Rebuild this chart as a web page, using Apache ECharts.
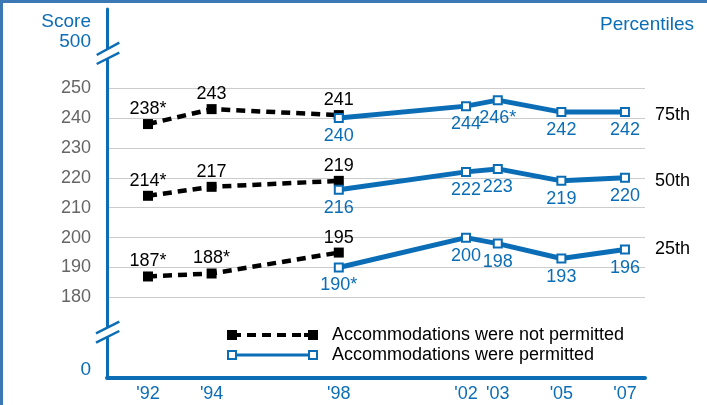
<!DOCTYPE html>
<html>
<head>
<meta charset="utf-8">
<script src="https://cdn.jsdelivr.net/npm/echarts@6/dist/echarts.min.js"></script>
<style>html,body{margin:0;padding:0;background:#fff;}#c{width:707px;height:405px;}</style>
</head>
<body>
<div id="c"></div>
<script>
// ---- data ----
const xTickYears = [1992, 1994, 1998, 2002, 2003, 2005, 2007];
const yTickValues = [180, 190, 200, 210, 220, 230, 240, 250];

const notPermittedYears = [1992, 1994, 1998];
const notPermitted75 = [238, 243, 241];
const notPermitted50 = [214, 217, 219];
const notPermitted25 = [187, 188, 195];
const notPermittedSig75 = [true, false, false];
const notPermittedSig50 = [true, false, false];
const notPermittedSig25 = [true, true, false];

const permittedYears = [1998, 2002, 2003, 2005, 2007];
const permitted75 = [240, 244, 246, 242, 242];
const permitted50 = [216, 222, 223, 219, 220];
const permitted25 = [190, 200, 198, 193, 196];
const permittedSig75 = [false, false, true, false, false];
const permittedSig50 = [false, false, false, false, false];
const permittedSig25 = [true, false, false, false, false];

const percentileNames = ['75th', '50th', '25th'];
const NAME_NOT = 'Accommodations were not permitted';
const NAME_YES = 'Accommodations were permitted';

// ---- styles ----
const BLUE = '#0b6db5';
const FONT = 'Liberation Sans, Arial, sans-serif';

function pairs(xs, ys, sig) {
  return xs.map((x, i) => ({ value: [x, ys[i]], sig: sig[i] }));
}
function labelFmt(p) { return p.value[1] + (p.data.sig ? '*' : ''); }

function notSeries(ys, sig) {
  return {
    name: NAME_NOT, type: 'line', z: 3,
    data: pairs(notPermittedYears, ys, sig),
    symbol: 'rect', symbolSize: 10,
    itemStyle: { color: '#000' },
    lineStyle: { color: '#000', width: 4.5, type: [9, 6] },
    label: { show: true, position: 'top', distance: 1, color: '#000', fontSize: 18, fontFamily: FONT, formatter: labelFmt },
    emphasis: { disabled: true }, animation: false
  };
}
function yesSeries(ys, sig) {
  return {
    name: NAME_YES, type: 'line', z: 4,
    data: pairs(permittedYears, ys, sig),
    symbol: 'rect', symbolSize: 8, showAllSymbol: true,
    itemStyle: { color: '#fff', borderColor: BLUE, borderWidth: 2 },
    lineStyle: { color: BLUE, width: 5 },
    label: { show: true, position: 'bottom', distance: 4, color: BLUE, fontSize: 18, fontFamily: FONT, formatter: labelFmt },
    emphasis: { disabled: true }, animation: false
  };
}

const iconNot = 'path://M0 0H10V10H0Z M10 3H14V7H10Z M20 3H29V7H20Z M35 3H44V7H35Z M50 3H59V7H50Z M65 3H74V7H65Z M77 3H81V7H77Z M81 0H91V10H81Z';
const iconYes = 'path://M0 0L10 0L10 10L0 10Z M2 2L2 8L8 8L8 2Z M10 3.5L81 3.5L81 6.5L10 6.5Z M81 0L91 0L91 10L81 10Z M83 2L83 8L89 8L89 2Z';

function txt(text, x, y, color, size, align, vAlign) {
  return { type: 'text', z: 10, silent: true, style: { text, x, y, fill: color, fontSize: size, fontFamily: FONT, align: align || 'left', verticalAlign: vAlign || 'middle' } };
}

const chart = echarts.init(document.getElementById('c'));
chart.setOption({
  animation: false,
  backgroundColor: '#fff',
  grid: { left: 107, right: 62, top: 9, bottom: 27.5, containLabel: false },
  xAxis: {
    type: 'value', min: 1990.71, max: 2007.63,
    axisLine: { show: true, lineStyle: { color: BLUE, width: 4 } },
    axisTick: { show: false, customValues: xTickYears },
    splitLine: { show: false },
    axisLabel: { customValues: xTickYears, color: BLUE, fontSize: 18, fontFamily: FONT, margin: 8,
      formatter: v => "'" + String(v).slice(2) }
  },
  yAxis: {
    type: 'value', min: 153.2, max: 276.5,
    axisLine: { show: true, onZero: false, lineStyle: { color: BLUE, width: 3 } },
    axisTick: { show: false, customValues: yTickValues },
    splitLine: { show: true, lineStyle: { color: '#cccccc', width: 1.2 } },
    axisLabel: { customValues: yTickValues, color: '#666', fontSize: 18, fontFamily: FONT, margin: 16 }
  },
  legend: {
    orient: 'vertical', left: 222, top: 321, itemWidth: 91, itemHeight: 10, itemGap: 2,
    selectedMode: false,
    textStyle: { color: '#000', fontSize: 18, fontFamily: FONT, padding: [0, 0, 0, 9] },
    data: [
      { name: NAME_NOT, icon: iconNot, itemStyle: { color: '#000', borderWidth: 0 } },
      { name: NAME_YES, icon: iconYes, itemStyle: { color: BLUE, borderWidth: 0 } }
    ]
  },
  series: [
    notSeries(notPermitted75, notPermittedSig75),
    notSeries(notPermitted50, notPermittedSig50),
    notSeries(notPermitted25, notPermittedSig25),
    yesSeries(permitted75, permittedSig75),
    yesSeries(permitted50, permittedSig50),
    yesSeries(permitted25, permittedSig25)
  ],
  graphic: [
    // frame
    { type: 'rect', z: 20, silent: true, shape: { x: 0, y: 0, width: 3, height: 405 }, style: { fill: '#3c78b4' } },
    { type: 'rect', z: 20, silent: true, shape: { x: 0, y: 0, width: 707, height: 3 }, style: { fill: '#3c78b4' } },
    // axis break marks
    { type: 'polygon', z: 11, silent: true, shape: { points: [[105, 50.5], [110, 47.8], [110, 57.3], [105, 59.9]] }, style: { fill: '#fff' } },
    { type: 'line', z: 12, silent: true, shape: { x1: 96.7, y1: 55, x2: 119.3, y2: 42.7 }, style: { stroke: BLUE, lineWidth: 2.5 } },
    { type: 'line', z: 12, silent: true, shape: { x1: 96.7, y1: 64, x2: 119.3, y2: 52.7 }, style: { stroke: BLUE, lineWidth: 2.5 } },
    { type: 'polygon', z: 11, silent: true, shape: { points: [[105, 328.8], [110, 326.3], [110, 335.6], [105, 338.1]] }, style: { fill: '#fff' } },
    { type: 'line', z: 12, silent: true, shape: { x1: 96, y1: 333.3, x2: 119.3, y2: 321.7 }, style: { stroke: BLUE, lineWidth: 2.5 } },
    { type: 'line', z: 12, silent: true, shape: { x1: 96, y1: 342.7, x2: 119.3, y2: 331 }, style: { stroke: BLUE, lineWidth: 2.5 } },
    // texts
    txt('Score', 91, 22, BLUE, 19, 'right'),
    txt('500', 91, 42, BLUE, 19, 'right'),
    txt('0', 91, 370, BLUE, 19, 'right'),
    txt('Percentiles', 694, 25, BLUE, 19, 'right'),
    txt(percentileNames[0], 655, 115, '#000', 18, 'left'),
    txt(percentileNames[1], 655, 181, '#000', 18, 'left'),
    txt(percentileNames[2], 655, 249, '#000', 18, 'left')
  ]
});
</script>
</body>
</html>
